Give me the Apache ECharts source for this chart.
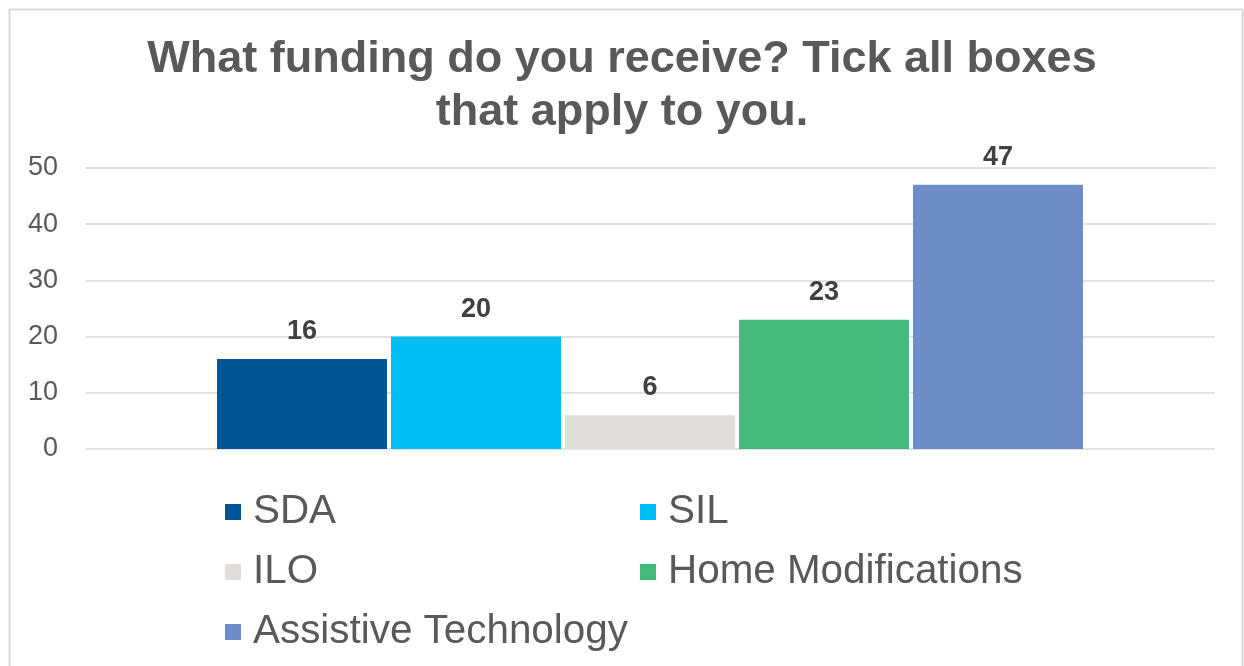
<!DOCTYPE html>
<html>
<head>
<meta charset="utf-8">
<script src="https://cdn.jsdelivr.net/npm/echarts@6/dist/echarts.min.js"></script>
<style>
  html, body { margin: 0; padding: 0; background: #fff; }
  #main { width: 1244px; height: 666px; }
</style>
</head>
<body>
<div id="main"></div>
<script>
var seriesNames = ['SDA', 'SIL', 'ILO', 'Home Modifications', 'Assistive Technology'];
var seriesValues = [16, 20, 6, 23, 47];
var colors = ['#005596', '#00bdf2', '#e1ddda', '#44b97b', '#6c8dc8'];
var categories = [''];
var yTicks = [0, 10, 20, 30, 40, 50];

var chart = echarts.init(document.getElementById('main'));

var series = seriesNames.map(function (name, i) {
  return {
    name: name,
    type: 'bar',
    barWidth: 170,
    barGap: '2.35%',
    data: [seriesValues[i]],
    itemStyle: { color: colors[i] },
    label: {
      show: true,
      position: 'top',
      distance: 14,
      color: '#404040',
      fontSize: 27,
      fontWeight: 'bold',
      fontFamily: 'Liberation Sans'
    }
  };
});

var option = {
  backgroundColor: '#fff',
  color: colors,
  title: {
    text: 'What funding do you receive? Tick all boxes\nthat apply to you.',
    left: 'center',
    top: 28,
    textStyle: {
      color: '#595959',
      fontSize: 45,
      fontWeight: 'bold',
      fontFamily: 'Liberation Sans',
      lineHeight: 53
    }
  },
  graphic: [{
    type: 'rect',
    shape: { x: 9.5, y: 9.5, width: 1233, height: 680 },
    style: { fill: 'none', stroke: '#d9d9d9', lineWidth: 2 },
    silent: true
  }],
  legend: {
    left: 225,
    top: 491,
    width: 840,
    padding: 0,
    itemWidth: 16,
    itemHeight: 16,
    itemGap: 18,
    icon: 'rect',
    data: seriesNames,
    textStyle: {
      color: '#595959',
      fontSize: 40.4,
      fontFamily: 'Liberation Sans',
      width: 369,
      lineHeight: 42,
      padding: [0, 0, 0, 7]
    }
  },
  grid: {
    left: 85,
    right: 29,
    top: 168,
    bottom: 217
  },
  xAxis: {
    type: 'category',
    data: categories,
    axisLine: { show: false },
    axisTick: { show: false },
    axisLabel: { show: false }
  },
  yAxis: {
    type: 'value',
    min: yTicks[0],
    max: yTicks[yTicks.length - 1],
    interval: 10,
    axisLine: { show: false },
    axisTick: { show: false },
    axisLabel: {
      color: '#595959',
      fontSize: 27,
      fontFamily: 'Liberation Sans',
      margin: 27
    },
    splitLine: { lineStyle: { color: '#d9d9d9', width: 1.5 } }
  },
  series: series
};

chart.setOption(option);
</script>
</body>
</html>
